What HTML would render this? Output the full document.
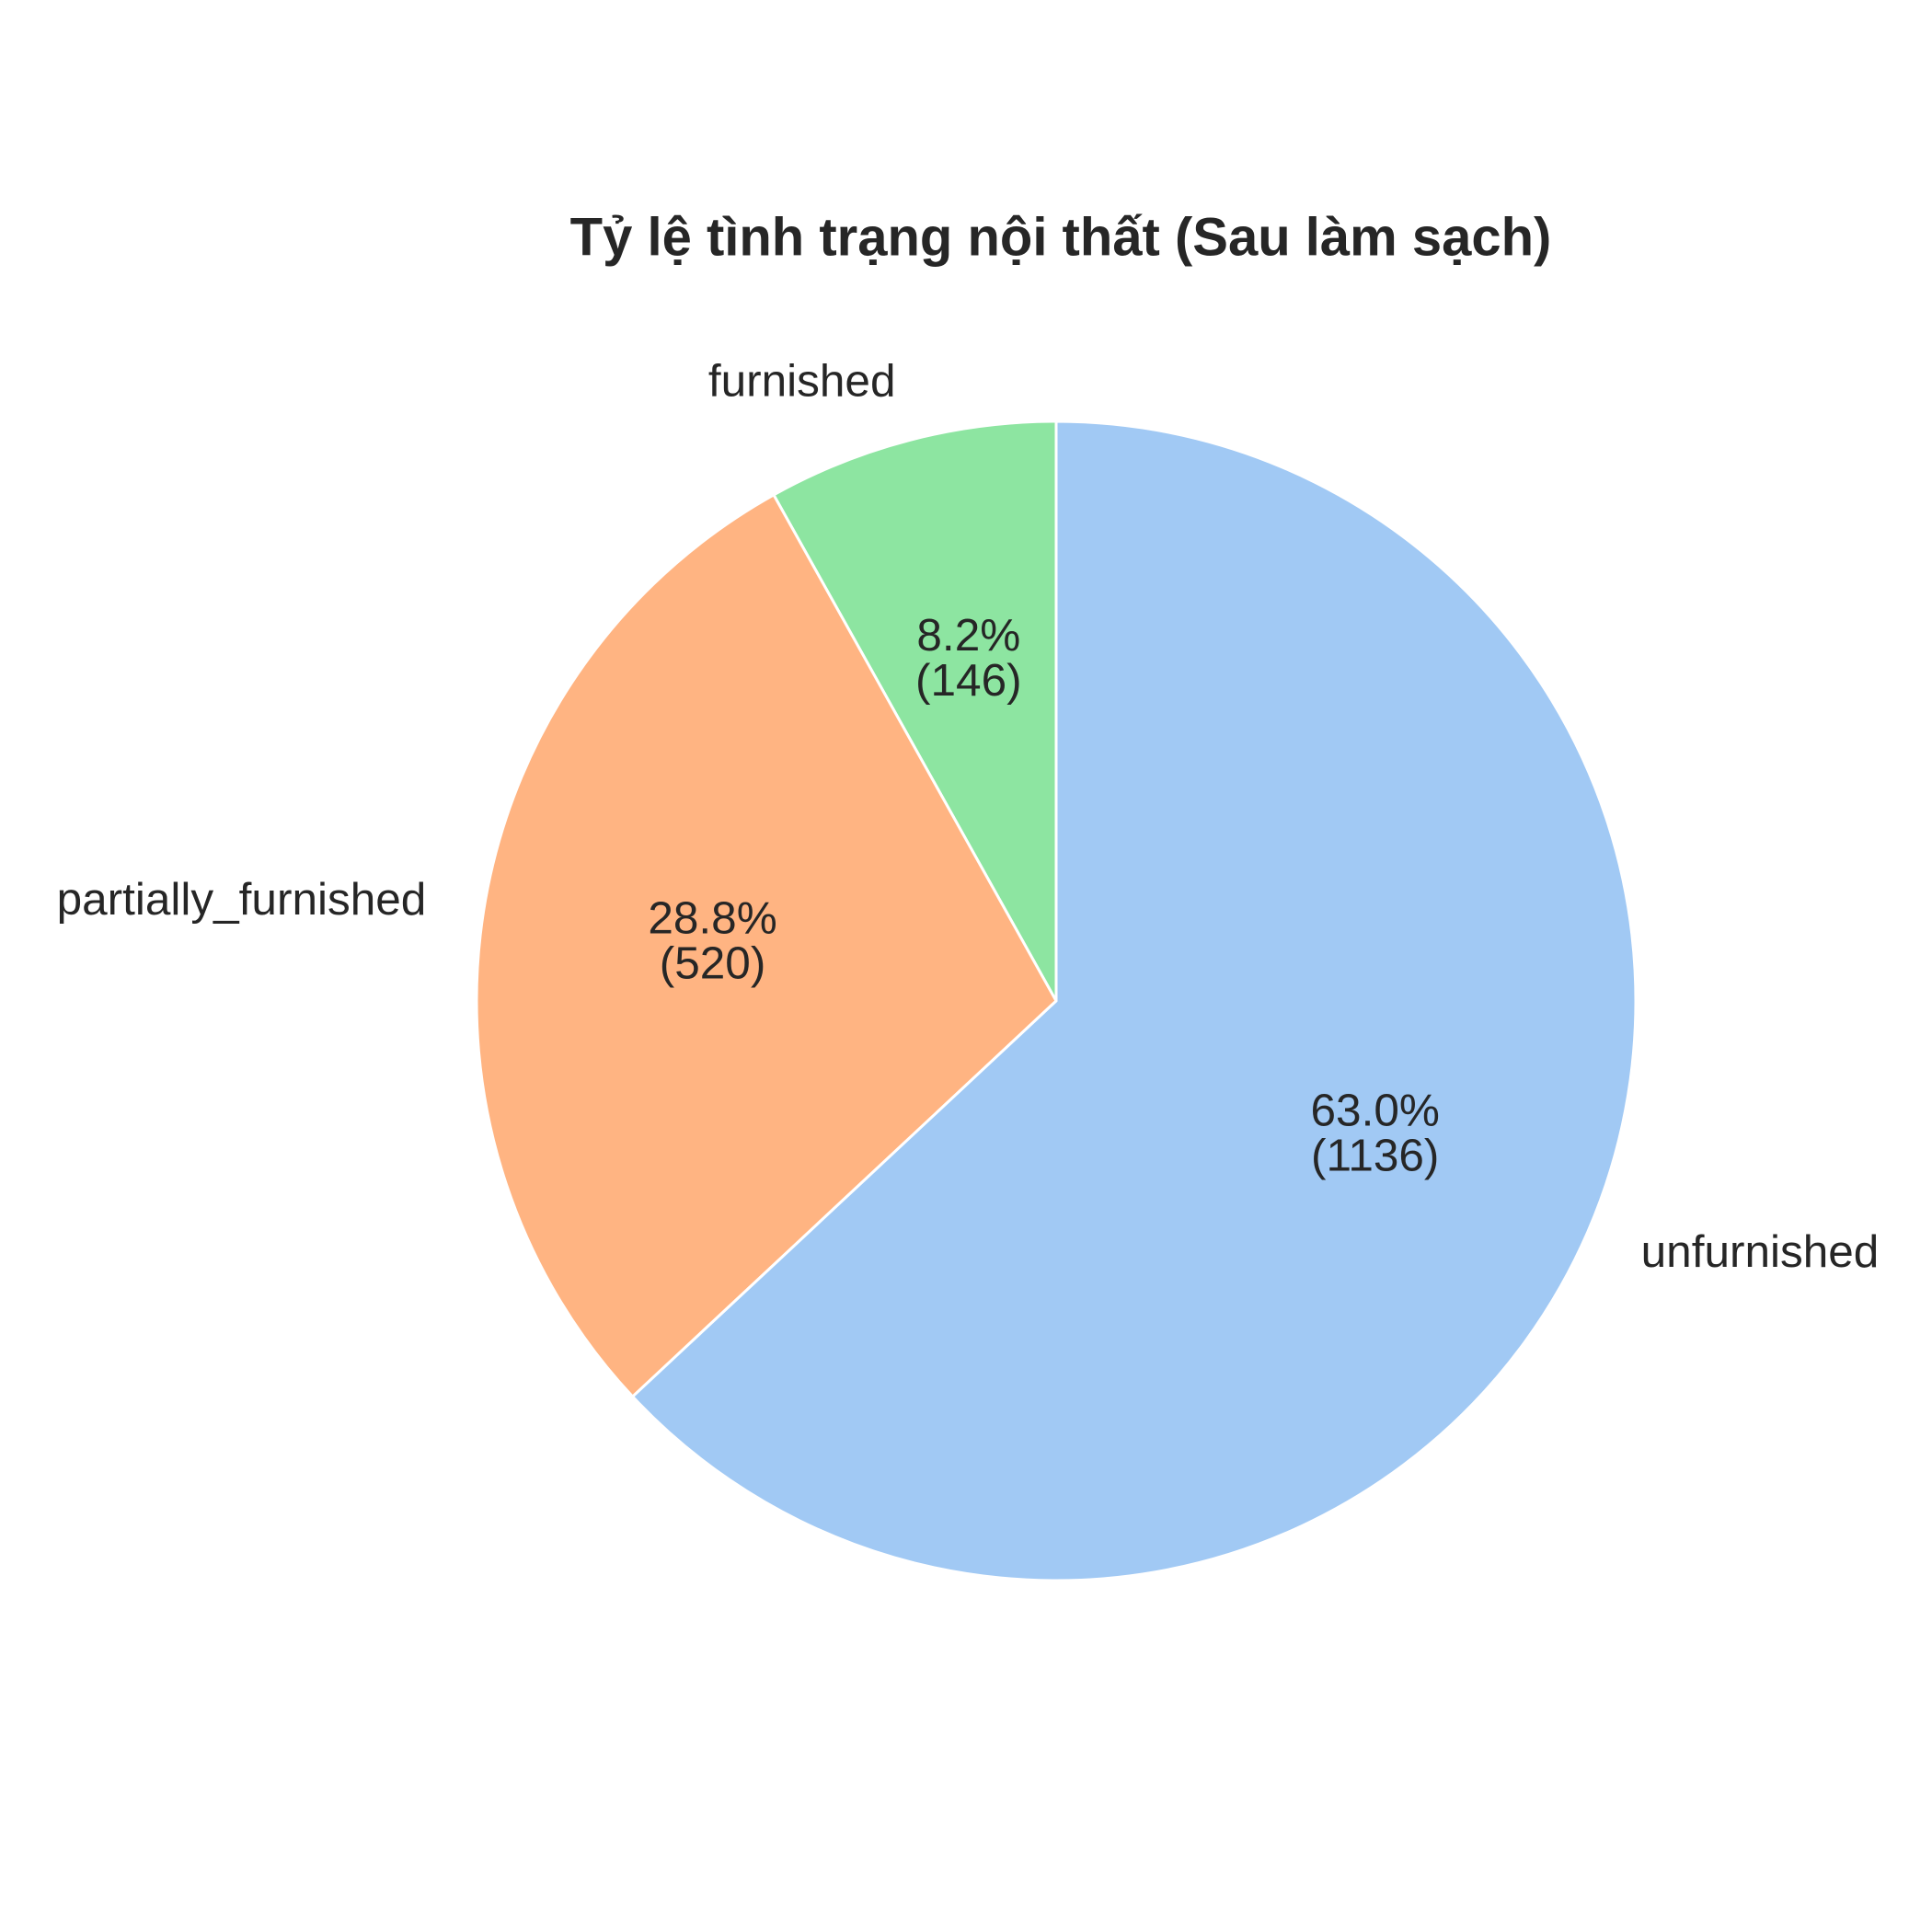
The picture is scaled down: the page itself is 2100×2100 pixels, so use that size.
<!DOCTYPE html>
<html><head><meta charset="utf-8"><style>
html,body{margin:0;padding:0;background:#fff;}
svg{display:block;}
text{font-family:"Liberation Sans",sans-serif;fill:#262626;}
</style></head><body>
<svg id="chart" width="2100" height="2100" viewBox="0 0 2100 2100">
<text x="1153" y="262" text-anchor="middle" dominant-baseline="middle" font-size="58" font-weight="bold">Tỷ lệ tình trạng nội thất (Sau làm sạch)</text>
<g id="slices"></g>
<g id="labels"></g>
</svg>
<script>
const categories = ["furnished", "partially_furnished", "unfurnished"];
const counts = [146, 520, 1136];
const pctLabels = ["8.2%", "28.8%", "63.0%"];
const colors = ["#8de5a1", "#ffb482", "#a1c9f4"];
const cx = 1148, cy = 1088, r = 630;
const total = counts.reduce((a,b)=>a+b,0);
const ns = "http://www.w3.org/2000/svg";
const gS = document.getElementById('slices'), gL = document.getElementById('labels');
let ang = 90;
function pt(a, rr){ const t=a*Math.PI/180; return [cx+rr*Math.cos(t), cy-rr*Math.sin(t)]; }
counts.forEach((c,i)=>{
  const sweep = c/total*360, a0 = ang, a1 = ang+sweep;
  const p0 = pt(a0,r), p1 = pt(a1,r);
  const large = sweep>180?1:0;
  const path = document.createElementNS(ns,'path');
  path.setAttribute('d',`M${cx},${cy} L${p0[0]},${p0[1]} A${r},${r} 0 ${large} 0 ${p1[0]},${p1[1]} Z`);
  path.setAttribute('fill',colors[i]);
  path.setAttribute('stroke','#fff');
  path.setAttribute('stroke-width','3');
  
  
  gS.appendChild(path);
  const mid = (a0+a1)/2;
  const lp = pt(mid, r*1.1);
  const lt = document.createElementNS(ns,'text');
  lt.setAttribute('x',lp[0]); lt.setAttribute('y',lp[1]);
  lt.setAttribute('font-size','49.5');
  lt.setAttribute('dominant-baseline','middle');
  lt.setAttribute('text-anchor', Math.cos(mid*Math.PI/180)>=0?'start':'end');
  lt.textContent = categories[i];
  
  
  gL.appendChild(lt);
  const pp = pt(mid, r*0.6);
  const pt1 = document.createElementNS(ns,'text');
  pt1.setAttribute('x',pp[0]); pt1.setAttribute('font-size','49.5'); pt1.setAttribute('text-anchor','middle');
  
  
  const s1 = document.createElementNS(ns,'tspan'); s1.setAttribute('x',pp[0]); s1.setAttribute('y',pp[1]-15);
  s1.textContent = pctLabels[i];
  const s2 = document.createElementNS(ns,'tspan'); s2.setAttribute('x',pp[0]); s2.setAttribute('y',pp[1]+34);
  s2.textContent = '('+c+')';
  pt1.appendChild(s1); pt1.appendChild(s2);
  gL.appendChild(pt1);
  ang = a1;
});
</script>
</body></html>
